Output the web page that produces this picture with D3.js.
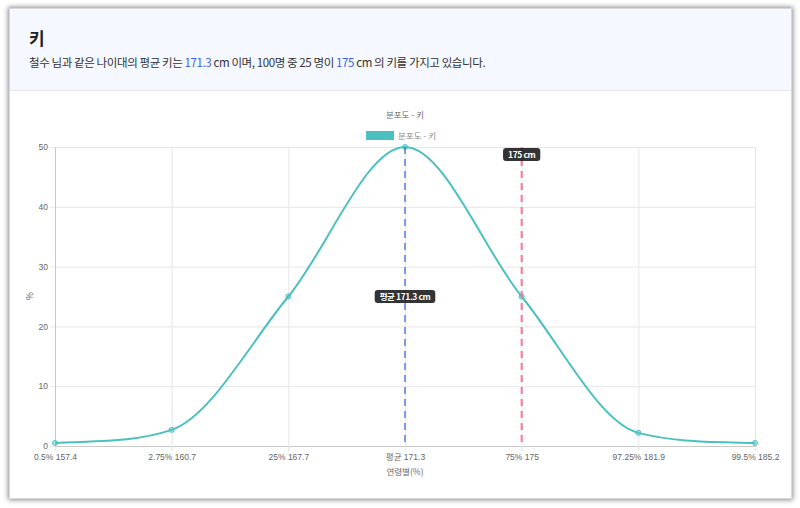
<!DOCTYPE html>
<html>
<head>
<meta charset="utf-8">
<script src="https://cdn.jsdelivr.net/npm/d3@7"></script>
<style>
  body { margin: 0; background: #fff; font-family: "Noto Sans CJK KR", "Noto Sans", sans-serif; }
  .card {
    position: absolute; left: 9px; top: 8px; width: 781px; height: 489px;
    border: 1px solid #d8d8d8; box-shadow: 0 0 5px 1px rgba(0,0,0,0.45);
    background: #fff; overflow: hidden;
  }
  .head {
    height: 82px; background: #f5f8fe; border-bottom: 1px solid #e3e6ec;
    box-sizing: border-box; padding: 18px 0 0 19px;
  }
  .head h2 { margin: 0; font-size: 17px; font-weight: 700; color: #222; line-height: 22px; }
  .head p { margin: 4px 0 0 0; font-size: 11.5px; color: #333; line-height: 18px; letter-spacing: -0.4px; }
  .head .hl { color: #3d5cf5; }
  #chart { position: absolute; left: 0; top: 0; }
</style>
</head>
<body>
<div class="card">
  <div class="head">
    <h2>키</h2>
    <p>철수 님과 같은 나이대의 평균 키는 <span class="hl">171.3</span> cm 이며, 100명 중 25 명이 <span class="hl">175</span> cm 의 키를 가지고 있습니다.</p>
  </div>
</div>
<svg id="chart" width="800" height="508"></svg>
<script>
// categories (x tick labels) and series values
const labels = ["0.5% 157.4", "2.75% 160.7", "25% 167.7", "평균 171.3", "75% 175", "97.25% 181.9", "99.5% 185.2"];
const values = [0.5, 2.7, 25, 50, 25, 2.2, 0.5];
const yTicks = [0, 10, 20, 30, 40, 50];

// annotation lines
const meanLabel = "평균 171.3";
const meanText = "평균 171.3 cm";
const myLabel = "75% 175";
const myText = "175 cm";

const chartTitle = "분포도 - 키";
const legendText = "분포도 - 키";
const xTitle = "연령별(%)";
const yTitle = "%";

const teal = "rgb(75,192,192)";
const plotL = 55, plotR = 755, plotT = 147, plotB = 446;

const svg = d3.select("#chart");

const x = d3.scalePoint().domain(labels).range([plotL, plotR]);
const y = d3.scaleLinear().domain([0, 50]).range([plotB, plotT]);

// grid
const grid = svg.append("g");
grid.selectAll(".hg").data(yTicks).enter().append("line")
    .attr("x1", plotL).attr("x2", plotR)
    .attr("y1", d => y(d) + 0.5).attr("y2", d => y(d) + 0.5)
    .attr("stroke", "#e6e6e6");
grid.selectAll(".vg").data(labels).enter().append("line")
    .attr("x1", d => x(d) + 0.5).attr("x2", d => x(d) + 0.5)
    .attr("y1", plotT).attr("y2", plotB + 5)
    .attr("stroke", "#e6e6e6");

// axes
const yAxis = svg.append("g")
    .attr("transform", `translate(${plotL},0)`)
    .call(d3.axisLeft(y).tickValues(yTicks).tickSize(5).tickPadding(2));
const xAxis = svg.append("g")
    .attr("transform", `translate(0,${plotB})`)
    .call(d3.axisBottom(x).tickSize(5).tickPadding(3));
[xAxis, yAxis].forEach(a => {
    a.select(".domain").attr("stroke", "#c8c8c8");
    a.selectAll(".tick line").attr("stroke", "#e6e6e6");
    a.selectAll("text").attr("fill", "#666").style("font-size", "8.5px")
        .style("font-family", "'Liberation Sans', 'Noto Sans CJK KR', sans-serif");
});

// series line: monotone cubic like the original chart (Fritsch-Carlson, secant ends)
const pts = values.map((v, i) => [x(labels[i]), y(v)]);
function monotonePath(p) {
    const n = p.length;
    const delta = [], m = [];
    for (let i = 0; i < n - 1; i++) {
        const dx = p[i + 1][0] - p[i][0];
        delta.push(dx ? (p[i + 1][1] - p[i][1]) / dx : 0);
    }
    for (let i = 0; i < n; i++) {
        if (i === 0) m.push(delta[0]);
        else if (i === n - 1) m.push(delta[n - 2]);
        else if (Math.sign(delta[i - 1]) !== Math.sign(delta[i])) m.push(0);
        else m.push((delta[i - 1] + delta[i]) / 2);
    }
    for (let i = 0; i < n - 1; i++) {
        if (Math.abs(delta[i]) < 1e-9) { m[i] = m[i + 1] = 0; continue; }
        const a = m[i] / delta[i], b = m[i + 1] / delta[i];
        const s = a * a + b * b;
        if (s <= 9) continue;
        const t = 3 / Math.sqrt(s);
        m[i] = a * t * delta[i];
        m[i + 1] = b * t * delta[i];
    }
    const path = d3.path();
    path.moveTo(p[0][0], p[0][1]);
    for (let i = 0; i < n - 1; i++) {
        const dx = (p[i + 1][0] - p[i][0]) / 3;
        path.bezierCurveTo(p[i][0] + dx, p[i][1] + m[i] * dx,
            p[i + 1][0] - dx, p[i + 1][1] - m[i + 1] * dx,
            p[i + 1][0], p[i + 1][1]);
    }
    return path.toString();
}

svg.append("path")
    .attr("d", monotonePath(pts))
    .attr("fill", "none")
    .attr("stroke", teal)
    .attr("stroke-width", 2);

svg.selectAll(".pt").data(values).enter().append("circle")
    .attr("cx", (d, i) => x(labels[i]))
    .attr("cy", d => y(d))
    .attr("r", 2.5)
    .attr("fill", "rgba(75,192,192,0.4)")
    .attr("stroke", teal)
    .attr("stroke-width", 1);

// annotations
function vline(cat, color, width, dash) {
    svg.append("line")
        .attr("x1", x(cat)).attr("x2", x(cat))
        .attr("y1", plotT).attr("y2", plotB)
        .attr("stroke", color).attr("stroke-width", width)
        .attr("stroke-dasharray", dash);
}
vline(meanLabel, "#3b6fd6", 1.3, "7,5");
vline(myLabel, "#ff7396", 2, "7,5");

function tag(cx, cy, text) {
    const g = svg.append("g");
    const t = g.append("text")
        .attr("x", cx).attr("y", cy + 3)
        .attr("text-anchor", "middle")
        .attr("fill", "#fff")
        .style("font-size", "8.5px").style("font-weight", "700")
        .style("letter-spacing", "-0.4px")
        .style("font-family", "'Noto Sans CJK KR', sans-serif")
        .text(text);
    const w = t.node().getComputedTextLength() + 10;
    g.insert("rect", "text")
        .attr("x", cx - w / 2).attr("y", cy - 6.5)
        .attr("width", w).attr("height", 13)
        .attr("rx", 3)
        .attr("fill", "rgba(30,30,30,0.9)");
}
tag(x(myLabel), 154.5, myText);
tag(x(meanLabel), (plotT + plotB) / 2, meanText);

// titles and legend
const lab = "'Noto Sans CJK KR', sans-serif";
svg.append("text").attr("x", 405).attr("y", 118).attr("text-anchor", "middle")
    .attr("fill", "#666").style("font-size", "8.5px").style("font-family", lab).text(chartTitle);
svg.append("rect").attr("x", 366).attr("y", 131).attr("width", 28).attr("height", 9)
    .attr("fill", teal);
svg.append("text").attr("x", 398).attr("y", 139)
    .attr("fill", "#888").style("font-size", "8.5px").style("font-family", lab).text(legendText);
svg.append("text").attr("x", 405).attr("y", 475).attr("text-anchor", "middle")
    .attr("fill", "#666").style("font-size", "8.5px").style("font-family", lab).text(xTitle);
svg.append("text").attr("transform", "translate(33,296) rotate(-90)").attr("text-anchor", "middle")
    .attr("fill", "#666").style("font-size", "8.5px").style("font-family", lab).text(yTitle);
</script>
</body>
</html>
